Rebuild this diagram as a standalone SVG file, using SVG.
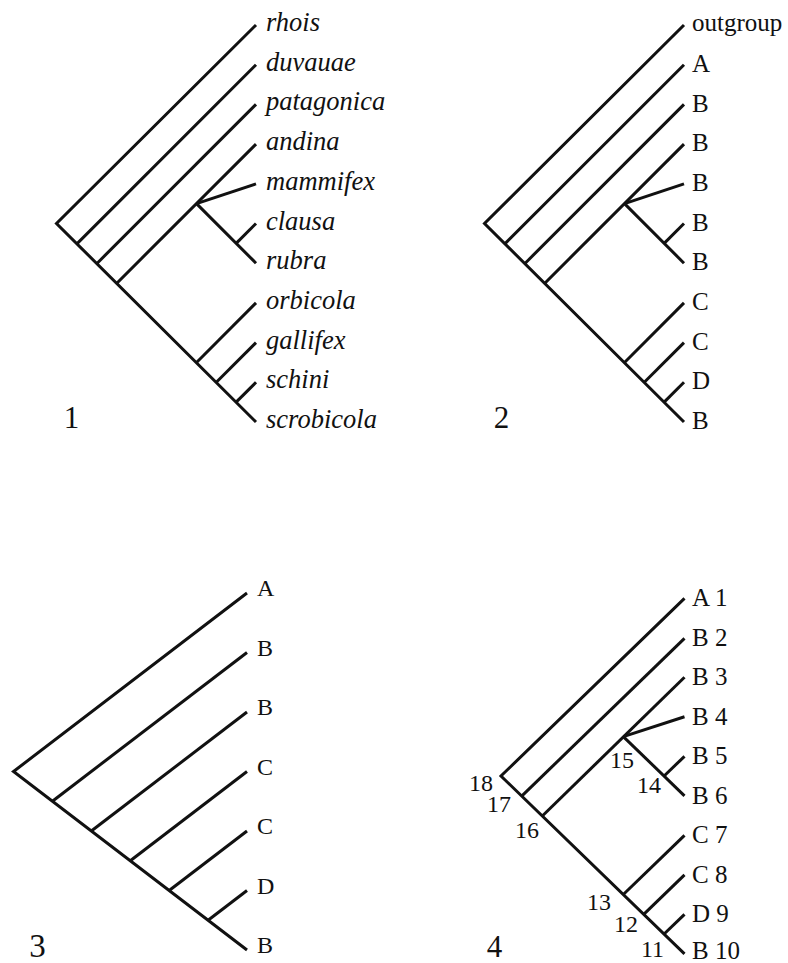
<svg xmlns="http://www.w3.org/2000/svg" width="788" height="963" viewBox="0 0 788 963">
<style>
.br{stroke:#111;stroke-width:3;fill:none;stroke-linecap:butt;stroke-linejoin:miter}
.it{font-family:"Liberation Serif",serif;font-style:italic;font-size:26.5px;fill:#111}
.lb{font-family:"Liberation Serif",serif;font-size:25px;fill:#111}
.l3{font-family:"Liberation Serif",serif;font-size:24px;fill:#111}
.num{font-family:"Liberation Serif",serif;font-size:24px;fill:#111;text-anchor:end}
.pn{font-family:"Liberation Serif",serif;font-size:31px;fill:#111;text-anchor:middle}
</style>
<rect width="788" height="963" fill="#fff"/>

<!-- Panel 1 -->
<g id="panel1">
  <g id="p1-connectors">
    <polyline class="br" points="256,25 56.5,223.5 256,422"/>
    <line class="br" x1="77.35" y1="243.35" x2="256" y2="64.7"/>
    <line class="br" x1="97.2" y1="263.2" x2="256" y2="104.4"/>
    <line class="br" x1="117.05" y1="282.95" x2="256" y2="144.1"/>
    <line class="br" x1="196.5" y1="203.6" x2="256" y2="183.8"/>
    <line class="br" x1="196.5" y1="203.6" x2="256" y2="263.2"/>
    <line class="br" x1="236.15" y1="243.35" x2="256" y2="223.5"/>
    <line class="br" x1="196.5" y1="362.5" x2="256" y2="302.9"/>
    <line class="br" x1="216.3" y1="382.3" x2="256" y2="342.6"/>
    <line class="br" x1="236.15" y1="402.15" x2="256" y2="382.3"/>
  </g>
  <g id="p1-labels">
    <text class="it" x="266" y="31">rhois</text>
    <text class="it" x="266" y="70.7">duvauae</text>
    <text class="it" x="266" y="110.4">patagonica</text>
    <text class="it" x="266" y="150.1">andina</text>
    <text class="it" x="266" y="189.8">mammifex</text>
    <text class="it" x="266" y="229.5">clausa</text>
    <text class="it" x="266" y="269.2">rubra</text>
    <text class="it" x="266" y="308.9">orbicola</text>
    <text class="it" x="266" y="348.6">gallifex</text>
    <text class="it" x="266" y="388.3">schini</text>
    <text class="it" x="266" y="428">scrobicola</text>
  </g>
  <text class="pn" x="71.5" y="428">1</text>
</g>

<!-- Panel 2 -->
<g id="panel2" transform="translate(428,0)">
  <g id="p2-connectors">
    <polyline class="br" points="256,25 56.5,223.5 256,422"/>
    <line class="br" x1="77.35" y1="243.35" x2="256" y2="64.7"/>
    <line class="br" x1="97.2" y1="263.2" x2="256" y2="104.4"/>
    <line class="br" x1="117.05" y1="282.95" x2="256" y2="144.1"/>
    <line class="br" x1="196.5" y1="203.6" x2="256" y2="183.8"/>
    <line class="br" x1="196.5" y1="203.6" x2="256" y2="263.2"/>
    <line class="br" x1="236.15" y1="243.35" x2="256" y2="223.5"/>
    <line class="br" x1="196.5" y1="362.5" x2="256" y2="302.9"/>
    <line class="br" x1="216.3" y1="382.3" x2="256" y2="342.6"/>
    <line class="br" x1="236.15" y1="402.15" x2="256" y2="382.3"/>
  </g>
  <g id="p2-labels">
    <text class="lb" x="264" y="31">outgroup</text>
    <text class="lb" x="264" y="72">A</text>
    <text class="lb" x="264" y="111.5">B</text>
    <text class="lb" x="264" y="151">B</text>
    <text class="lb" x="264" y="191">B</text>
    <text class="lb" x="264" y="230.5">B</text>
    <text class="lb" x="264" y="270">B</text>
    <text class="lb" x="264" y="310">C</text>
    <text class="lb" x="264" y="349.5">C</text>
    <text class="lb" x="264" y="389">D</text>
    <text class="lb" x="264" y="429">B</text>
  </g>
  <text class="pn" x="73.5" y="428">2</text>
</g>

<!-- Panel 3 -->
<g id="panel3">
  <g id="p3-connectors">
    <polyline class="br" points="247,593 13.5,771.5 247,950"/>
    <line class="br" x1="52.4" y1="801.2" x2="247" y2="652.5"/>
    <line class="br" x1="91.3" y1="831" x2="247" y2="712"/>
    <line class="br" x1="130.3" y1="860.8" x2="247" y2="771.5"/>
    <line class="br" x1="169.2" y1="890.5" x2="247" y2="831"/>
    <line class="br" x1="208.1" y1="920.3" x2="247" y2="890.5"/>
  </g>
  <g id="p3-labels">
    <text class="l3" x="257" y="596">A</text>
    <text class="l3" x="257" y="655.5">B</text>
    <text class="l3" x="257" y="715">B</text>
    <text class="l3" x="257" y="774.5">C</text>
    <text class="l3" x="257" y="834">C</text>
    <text class="l3" x="257" y="893.5">D</text>
    <text class="l3" x="257" y="953">B</text>
  </g>
  <text class="pn" x="37.5" y="957" style="font-size:33px">3</text>
</g>

<!-- Panel 4 -->
<g id="panel4">
  <g id="p4-connectors">
    <polyline class="br" points="684.5,598.3 501,776 684.5,953.8"/>
    <line class="br" x1="521.7" y1="796.1" x2="684.5" y2="638.3"/>
    <line class="br" x1="542.3" y1="816" x2="684.5" y2="677.3"/>
    <line class="br" x1="623.3" y1="736.6" x2="684.5" y2="716.8"/>
    <line class="br" x1="623.3" y1="736.6" x2="684.5" y2="795.8"/>
    <line class="br" x1="664.1" y1="776" x2="684.5" y2="756.3"/>
    <line class="br" x1="623.3" y1="894.5" x2="684.5" y2="835.3"/>
    <line class="br" x1="643.7" y1="914.3" x2="684.5" y2="874.8"/>
    <line class="br" x1="664.1" y1="934" x2="684.5" y2="914.3"/>
  </g>
  <g id="p4-labels">
    <text class="lb" x="692" y="606" xml:space="preserve">A 1</text>
    <text class="lb" x="692" y="645.5" xml:space="preserve">B 2</text>
    <text class="lb" x="692" y="685" xml:space="preserve">B 3</text>
    <text class="lb" x="692" y="724.5" xml:space="preserve">B 4</text>
    <text class="lb" x="692" y="764" xml:space="preserve">B 5</text>
    <text class="lb" x="692" y="803.5" xml:space="preserve">B 6</text>
    <text class="lb" x="692" y="843" xml:space="preserve">C 7</text>
    <text class="lb" x="692" y="882.5" xml:space="preserve">C 8</text>
    <text class="lb" x="692" y="922" xml:space="preserve">D 9</text>
    <text class="lb" x="692" y="959" xml:space="preserve">B 10</text>
  </g>
  <g id="p4-nodes">
    <text class="num" x="493" y="791">18</text>
    <text class="num" x="511" y="812">17</text>
    <text class="num" x="539" y="838">16</text>
    <text class="num" x="634" y="768">15</text>
    <text class="num" x="661" y="793">14</text>
    <text class="num" x="611" y="910">13</text>
    <text class="num" x="638" y="932">12</text>
    <text class="num" x="664" y="957">11</text>
  </g>
  <text class="pn" x="494.5" y="957">4</text>
</g>
</svg>
